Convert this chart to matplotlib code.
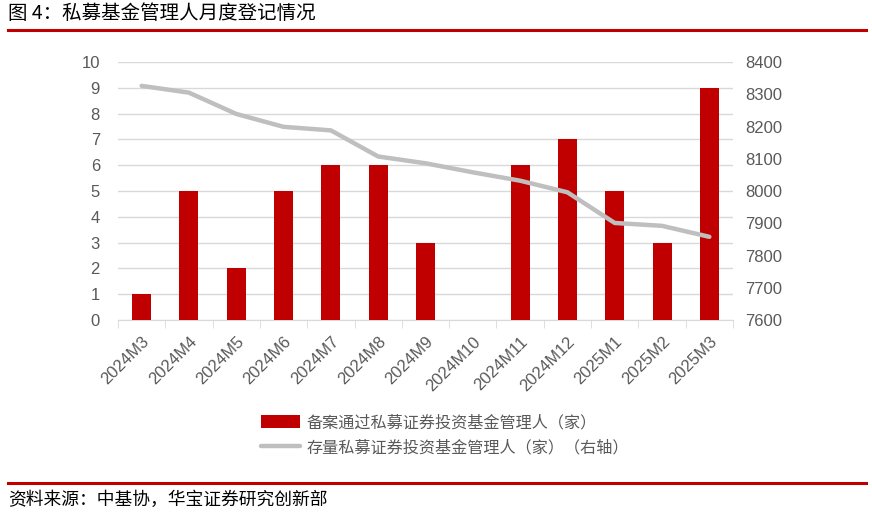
import matplotlib
matplotlib.use('Agg')
import matplotlib.pyplot as plt
import numpy as np

months = ['2024M3', '2024M4', '2024M5', '2024M6', '2024M7', '2024M8', '2024M9',
          '2024M10', '2024M11', '2024M12', '2025M1', '2025M2', '2025M3']
new_managers = [1, 5, 2, 5, 6, 6, 3, 0, 6, 7, 5, 3, 9]
total_managers = [8326, 8305, 8239, 8199, 8188, 8107, 8086, 8058, 8032, 7996, 7901, 7892, 7858]

bar_label = '备案通过私募证券投资基金管理人（家）'
line_label = '存量私募证券投资基金管理人（家）（右轴）'
title = '图 4：私募基金管理人月度登记情况'
source = '资料来源：中基协，华宝证券研究创新部'

cjk = ['Noto Sans CJK SC', 'DejaVu Sans']
num_font = 'Liberation Sans'
grey_text = '#595959'
red = '#c00000'

fig = plt.figure(figsize=(8.72, 5.15), dpi=100)
ax = fig.add_axes([0.1353, 0.3786, 0.7053, 0.501])
ax2 = ax.twinx()

x = np.arange(len(months))
bars = ax.bar(x, new_managers, width=0.4, color=red, zorder=3, label=bar_label)
line, = ax2.plot(x, total_managers, color='#bfbfbf', lw=3.2, solid_capstyle='round',
                 zorder=4, label=line_label)

ax.set_xlim(-0.5, len(months) - 0.5)
ax.set_ylim(0, 10)
ax.set_yticks(range(0, 11))
ax2.set_ylim(7600, 8400)
ax2.set_yticks(range(7600, 8401, 100))

ax.grid(axis='y', color='#d9d9d9', lw=1, zorder=0)
ax.set_axisbelow(True)

for a in (ax, ax2):
    for s in ('top', 'left', 'right'):
        a.spines[s].set_visible(False)
    a.spines['bottom'].set_color('#d9d9d9')
    a.tick_params(axis='y', length=0, labelsize=12, labelcolor=grey_text)
ax2.spines['bottom'].set_visible(False)

ax.tick_params(axis='y', pad=13)
ax2.tick_params(axis='y', pad=9)

ax.set_xticks(x)
ax.set_xticklabels(months, rotation=45, ha='right', rotation_mode='anchor',
                   fontsize=12, color=grey_text, fontfamily=num_font)
ax.set_xticks(np.arange(-0.5, len(months)), minor=True)
ax.tick_params(axis='x', which='major', length=0, pad=10)
ax.tick_params(axis='x', which='minor', length=6, color='#d9d9d9', direction='out')

for lab in ax.get_yticklabels() + ax2.get_yticklabels():
    lab.set_fontfamily(num_font)

# legend
fig.legend(handles=[bars, line], labels=[bar_label, line_label],
           loc='upper left', bbox_to_anchor=(0.283, 0.224), frameon=False,
           prop={'family': cjk, 'size': 11.6}, labelcolor=grey_text,
           handlelength=2.4, handleheight=0.9, labelspacing=0.5, handletextpad=0.4)

# title and source with red rules
fig.text(0.009, 0.973, title, fontsize=14, fontfamily=cjk, va='center', ha='left')
fig.add_artist(plt.Line2D([0.009, 0.993], [0.942, 0.942], color=red, lw=2.2))
fig.add_artist(plt.Line2D([0.009, 0.993], [0.062, 0.062], color=red, lw=2.2))
fig.text(0.009, 0.029, source, fontsize=12.8, fontfamily=cjk, va='center', ha='left')

fig.savefig('out.png', dpi=100)
